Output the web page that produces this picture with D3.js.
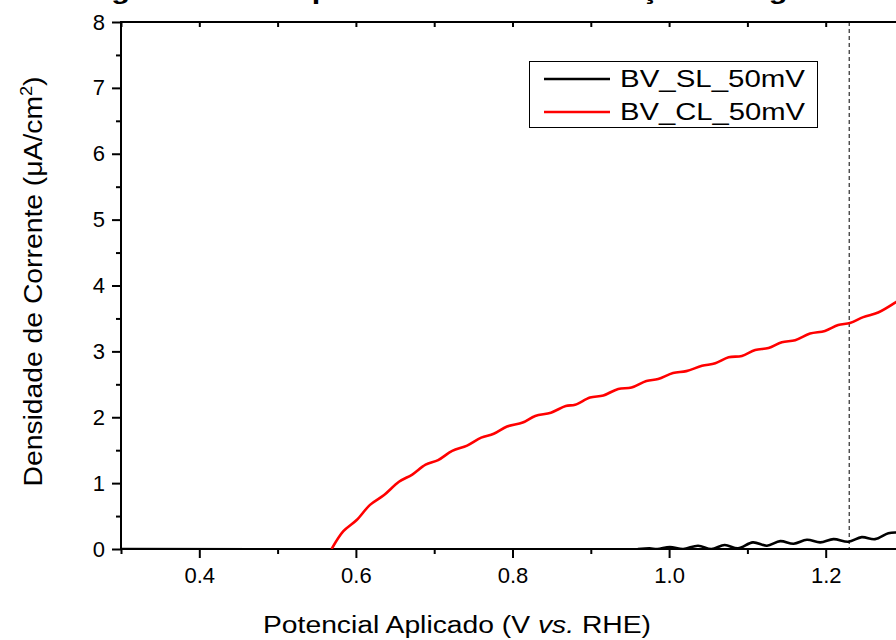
<!DOCTYPE html>
<html>
<head>
<meta charset="utf-8">
<script src="https://cdn.jsdelivr.net/npm/d3@7"></script>
<style>
  body { margin: 0; background: #fff; }
  svg { display: block; font-family: "Liberation Sans", Arial, sans-serif; }
</style>
</head>
<body>
<div id="chart"></div>
<script>
// data
const sl_x = [0.30, 0.96, 0.975, 0.985, 1.001, 1.018, 1.037, 1.054, 1.071, 1.088, 1.107, 1.125, 1.142, 1.159, 1.176, 1.193, 1.210, 1.229, 1.246, 1.263, 1.280, 1.290, 1.30, 1.32, 1.35];
const sl_y = [0, 0, 0.01, 0, 0.03, 0, 0.05, 0, 0.06, 0.01, 0.10, 0.05, 0.12, 0.08, 0.14, 0.10, 0.15, 0.11, 0.18, 0.15, 0.24, 0.25, 0.24, 0.30, 0.38];

const cl_x = [0.569, 0.584, 0.601, 0.618, 0.636, 0.655, 0.672, 0.689, 0.705, 0.723, 0.742, 0.760, 0.776, 0.793, 0.813, 0.829, 0.849, 0.868, 0.880, 0.899, 0.916, 0.935, 0.952, 0.971, 0.986, 1.005, 1.022, 1.042, 1.059, 1.076, 1.093, 1.110, 1.127, 1.144, 1.161, 1.180, 1.199, 1.216, 1.231, 1.248, 1.267, 1.290, 1.31, 1.35];
const cl_y = [0, 0.27, 0.44, 0.67, 0.82, 1.02, 1.13, 1.28, 1.35, 1.49, 1.57, 1.69, 1.75, 1.86, 1.92, 2.02, 2.07, 2.17, 2.19, 2.30, 2.33, 2.43, 2.45, 2.55, 2.58, 2.67, 2.70, 2.78, 2.82, 2.91, 2.93, 3.02, 3.05, 3.14, 3.17, 3.27, 3.31, 3.40, 3.43, 3.52, 3.59, 3.75, 3.92, 4.3];

const xMajor = [0.4, 0.6, 0.8, 1.0, 1.2];
const xMinor = [0.3, 0.5, 0.7, 0.9, 1.1];
const yMajor = [0, 1, 2, 3, 4, 5, 6, 7, 8];
const yMinor = [0.5, 1.5, 2.5, 3.5, 4.5, 5.5, 6.5, 7.5];
const refPotential = 1.23;

const series = [
  { name: "BV_SL_50mV", color: "#000", x: sl_x, y: sl_y },
  { name: "BV_CL_50mV", color: "#ff0000", x: cl_x, y: cl_y }
];

const width = 896, height = 640;
const mLeft = 121, mTop = 22, mBottom = 549;
const plotRight = 121 + 1.1 * 783;

const x = d3.scaleLinear().domain([0.3, 1.4]).range([mLeft, plotRight]);
const y = d3.scaleLinear().domain([0, 8]).range([mBottom, mTop]);

const svg = d3.select("#chart").append("svg")
  .attr("width", width)
  .attr("height", height);

svg.append("clipPath").attr("id", "clip")
  .append("rect")
  .attr("x", mLeft).attr("y", mTop)
  .attr("width", plotRight - mLeft).attr("height", mBottom - mTop);

// title, mostly above the frame (cut off in the original too)
svg.append("text")
  .attr("x", 408).attr("y", -1)
  .attr("text-anchor", "middle")
  .attr("font-size", 24)
  .attr("font-weight", "bold")
  .attr("textLength", 830)
  .attr("lengthAdjust", "spacingAndGlyphs")
  .text("Voltamograma Linear para o BiVO4 na Oxidação da Água");

// axes
const tickFont = g => g.selectAll("text").attr("font-size", 22).attr("fill", "#000")
  .attr("font-family", "Liberation Sans, Arial, sans-serif");

const bx = svg.append("g").attr("transform", `translate(0,${mBottom})`)
  .call(d3.axisBottom(x).tickValues(xMajor).tickSize(9).tickPadding(9).tickFormat(d3.format(".1f")))
  .call(tickFont);
bx.select(".domain").remove();
svg.append("g").attr("transform", `translate(0,${mBottom})`)
  .call(d3.axisBottom(x).tickValues(xMinor).tickSize(5).tickFormat(""))
  .select(".domain").remove();

svg.append("g").attr("transform", `translate(0,${mTop})`)
  .call(d3.axisBottom(x).tickValues(xMajor.concat(xMinor)).tickSize(5).tickFormat(""))
  .select(".domain").remove();

const ly = svg.append("g").attr("transform", `translate(${mLeft},0)`)
  .call(d3.axisLeft(y).tickValues(yMajor).tickSize(9).tickPadding(7).tickFormat(d3.format("d")))
  .call(tickFont);
ly.select(".domain").remove();
svg.append("g").attr("transform", `translate(${mLeft},0)`)
  .call(d3.axisLeft(y).tickValues(yMinor).tickSize(5).tickFormat(""))
  .select(".domain").remove();

svg.selectAll(".tick line").attr("stroke", "#000").attr("stroke-width", 2);

// frame lines
svg.append("line").attr("x1", mLeft).attr("x2", plotRight).attr("y1", mBottom).attr("y2", mBottom)
  .attr("stroke", "#000").attr("stroke-width", 2);
svg.append("line").attr("x1", mLeft).attr("x2", plotRight).attr("y1", mTop).attr("y2", mTop)
  .attr("stroke", "#000").attr("stroke-width", 2);
svg.append("line").attr("x1", mLeft).attr("x2", mLeft).attr("y1", mTop - 1).attr("y2", mBottom + 1)
  .attr("stroke", "#000").attr("stroke-width", 2);

// dashed reference line
svg.append("line")
  .attr("x1", x(refPotential)).attr("x2", x(refPotential))
  .attr("y1", mTop).attr("y2", mBottom)
  .attr("stroke", "#000").attr("stroke-width", 1)
  .attr("stroke-dasharray", "4,3");

const line = d3.line()
  .x(d => x(d[0]))
  .y(d => y(d[1]))
  .curve(d3.curveCatmullRom);

const plot = svg.append("g").attr("clip-path", "url(#clip)");
series.forEach(s => {
  plot.append("path")
    .datum(s.x.map((v, i) => [v, s.y[i]]))
    .attr("d", line)
    .attr("fill", "none")
    .attr("stroke", s.color)
    .attr("stroke-width", 2.6);
});

// legend
const lg = svg.append("g");
lg.append("rect")
  .attr("x", 529.5).attr("y", 61.5)
  .attr("width", 288).attr("height", 66)
  .attr("fill", "#fff").attr("stroke", "#000").attr("stroke-width", 1);
series.forEach((s, i) => {
  const ly0 = 79 + i * 33;
  lg.append("line")
    .attr("x1", 544).attr("x2", 610).attr("y1", ly0).attr("y2", ly0)
    .attr("stroke", s.color).attr("stroke-width", 2.6);
  lg.append("text")
    .attr("x", 620).attr("y", ly0 + 8)
    .attr("font-size", 23)
    .attr("textLength", 185)
    .attr("lengthAdjust", "spacingAndGlyphs")
    .text(s.name);
});

// axis titles
svg.append("text")
  .attr("transform", `translate(42,${(mTop + mBottom) / 2 - 4}) rotate(-90)`)
  .attr("text-anchor", "middle")
  .attr("font-size", 25)
  .attr("textLength", 410)
  .attr("lengthAdjust", "spacingAndGlyphs")
  .html("Densidade de Corrente (&#956;A/cm<tspan dy='-10' font-size='16'>2</tspan><tspan dy='10'>)</tspan>");

svg.append("text")
  .attr("x", 457).attr("y", 633)
  .attr("text-anchor", "middle")
  .attr("font-size", 23)
  .attr("textLength", 388)
  .attr("lengthAdjust", "spacingAndGlyphs")
  .html("Potencial Aplicado (V <tspan font-style='italic'>vs.</tspan> RHE)");
</script>
</body>
</html>
